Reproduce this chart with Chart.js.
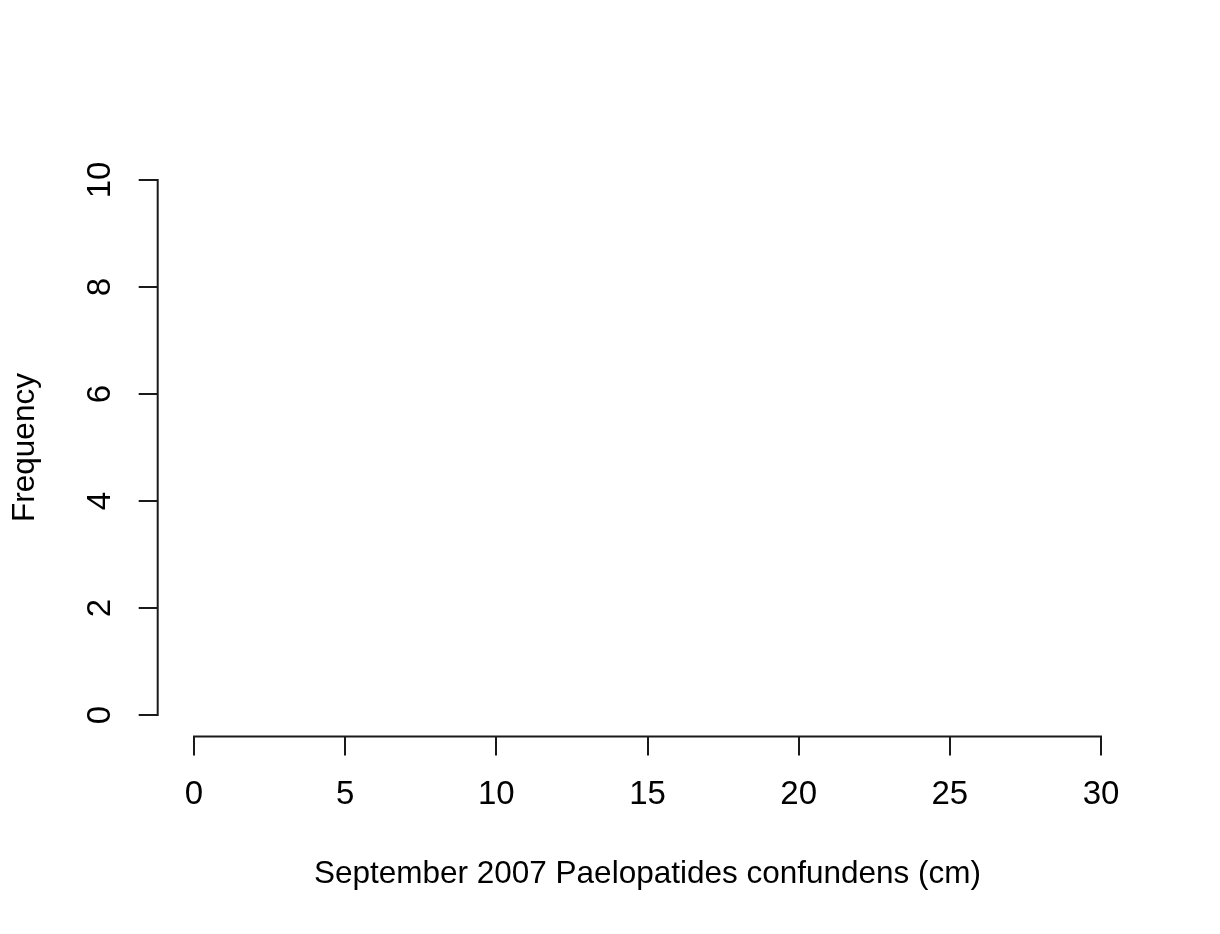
<!DOCTYPE html>
<html>
<head>
<meta charset="utf-8">
<script src="https://cdn.jsdelivr.net/npm/chart.js@4.4.1/dist/chart.umd.min.js"></script>
<style>
  html, body { margin: 0; padding: 0; background: #ffffff; }
  #c { display: block; }
</style>
</head>
<body>
<canvas id="c" width="1220" height="934"></canvas>
<script>
// ---- data (empty histogram: no observations) ----
const lengthsCm = [];                 // observed lengths (none)
const xTicks = [0, 5, 10, 15, 20, 25, 30];
const yTicks = [0, 2, 4, 6, 8, 10];
const xTitle = 'September 2007 Paelopatides confundens (cm)';
const yTitle = 'Frequency';

const FONT = '"Liberation Sans", Arial, sans-serif';
const INK = '#1a1a1a';

// R-style detached axes: line spans only first..last tick
const rAxes = {
  id: 'rAxes',
  afterDraw(chart) {
    const { ctx, chartArea, scales } = chart;
    const x = scales.x, y = scales.y;
    ctx.save();
    ctx.strokeStyle = INK;
    ctx.lineWidth = 2;
    ctx.lineCap = 'square';
    ctx.beginPath();
    ctx.moveTo(chartArea.left, y.getPixelForValue(yTicks[0]));
    ctx.lineTo(chartArea.left, y.getPixelForValue(yTicks[yTicks.length - 1]));
    ctx.moveTo(x.getPixelForValue(xTicks[0]), chartArea.bottom);
    ctx.lineTo(x.getPixelForValue(xTicks[xTicks.length - 1]), chartArea.bottom);
    ctx.stroke();
    ctx.restore();
  }
};

new Chart(document.getElementById('c'), {
  type: 'scatter',
  data: {
    datasets: [{
      data: lengthsCm.map(v => ({ x: v, y: 0 })),
      backgroundColor: '#ffffff',
      borderColor: INK
    }]
  },
  options: {
    responsive: false,
    animation: false,
    devicePixelRatio: 1,
    layout: { padding: { top: 158.6, right: 82.7, left: 0, bottom: 0 } },
    plugins: { legend: { display: false }, tooltip: { enabled: false } },
    scales: {
      x: {
        type: 'linear',
        position: 'bottom',
        min: -1.2,
        max: 31.2,
        afterBuildTicks: s => { s.ticks = xTicks.map(v => ({ value: v })); },
        afterFit: s => { s.height = 934 - 736.4; },
        border: { display: false },
        grid: { drawOnChartArea: false, drawTicks: true, tickLength: 19, color: INK, lineWidth: 2 },
        ticks: {
          autoSkip: false, maxRotation: 0, minRotation: 0, padding: 20,
          color: '#000', font: { family: FONT, size: 33 },
          callback: v => String(v)
        },
        title: {
          display: true, text: xTitle, color: '#000',
          font: { family: FONT, size: 31.5 },
          padding: { top: 0, bottom: 41 }
        }
      },
      y: {
        type: 'linear',
        position: 'left',
        min: -0.4,
        max: 10.4,
        afterBuildTicks: s => { s.ticks = yTicks.map(v => ({ value: v })); },
        afterFit: s => { s.width = 157.7; },
        border: { display: false },
        grid: { drawOnChartArea: false, drawTicks: true, tickLength: 19, color: INK, lineWidth: 2 },
        ticks: {
          autoSkip: false, minRotation: 90, maxRotation: 90, padding: 19,
          crossAlign: 'center',
          color: '#000', font: { family: FONT, size: 33 },
          callback: v => String(v)
        },
        title: {
          display: true, text: yTitle, color: '#000',
          font: { family: FONT, size: 31.5 },
          padding: { top: 6.2, bottom: 0 }
        }
      }
    }
  },
  plugins: [rAxes]
});
</script>
</body>
</html>
